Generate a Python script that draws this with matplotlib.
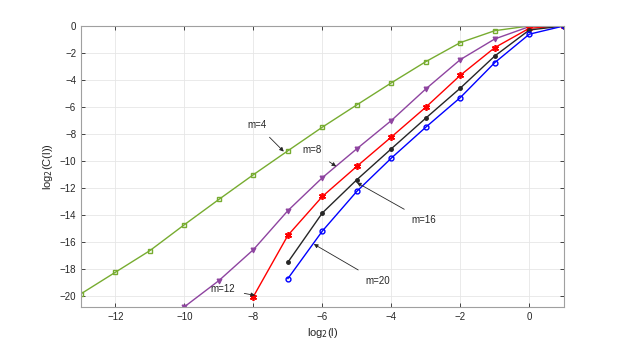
import numpy as np
import matplotlib.pyplot as plt

# ── Data ──
x_m4 = [-13, -12, -11, -10, -9, -8, -7, -6, -5, -4, -3, -2, -1, 0, 1]
y_m4 = [-19.83, -18.23, -16.63, -14.71, -12.84, -11.01, -9.24, -7.49,
        -5.84, -4.21, -2.64, -1.23, -0.35, 0.0, 0.0]

x_m8 = [-10, -9, -8, -7, -6, -5, -4, -3, -2, -1, 0, 1]
y_m8 = [-20.79, -18.85, -16.56, -13.67, -11.23, -9.09, -7.0, -4.66,
        -2.49, -0.96, -0.05, 0.0]

x_m12 = [-8, -7, -6, -5, -4, -3, -2, -1, 0, 1]
y_m12 = [-20.03, -15.5, -12.62, -10.39, -8.22, -6.01, -3.65, -1.6, -0.17, 0.0]

x_m16 = [-7, -6, -5, -4, -3, -2, -1, 0, 1]
y_m16 = [-17.49, -13.84, -11.38, -9.09, -6.82, -4.6, -2.22, -0.30, 0.0]

x_m20 = [-7, -6, -5, -4, -3, -2, -1, 0, 1]
y_m20 = [-18.7, -15.18, -12.24, -9.78, -7.49, -5.3, -2.71, -0.61, 0.0]

x_ticks = [-12, -10, -8, -6, -4, -2, 0]
y_ticks = [0, -2, -4, -6, -8, -10, -12, -14, -16, -18, -20]

# label text, arrow target (x, y), text position (x, y)
notes = [
    ("m=4", (-7.12, -9.3), (-7.9, -7.3)),
    ("m=8", (-5.6, -10.4), (-6.3, -9.2)),
    ("m=12", (-7.95, -19.95), (-8.9, -19.5)),
    ("m=16", (-5.0, -11.6), (-3.05, -14.4)),
    ("m=20", (-6.25, -16.15), (-4.4, -18.9)),
]

plt.rcParams['font.family'] = ['Liberation Sans', 'DejaVu Sans']

fig = plt.figure(figsize=(6.23, 3.46), dpi=100)
ax = fig.add_axes([0.130, 0.113, 0.775, 0.812])

ax.plot(x_m4, y_m4, color="#77ac30", lw=1.0, marker="s", ms=3, mfc="none", mew=1.0)
ax.plot(x_m8, y_m8, color="#8e44a0", lw=1.0, marker="v", ms=3.5, mew=0.8)
ax.plot(x_m12, y_m12, color="red", lw=1.0, marker=(6, 2, 0), ms=5, mew=1.2)
ax.plot(x_m16, y_m16, color="#262626", lw=1.0, marker=".", ms=5)
ax.plot(x_m20, y_m20, color="blue", lw=1.0, marker="o", ms=3.5, mfc="none", mew=1.0)

for label, xy, xytext in notes:
    ax.annotate(label, xy=xy, xytext=xytext, fontsize=7, color="#262626",
                ha="center", va="center",
                arrowprops=dict(arrowstyle="-|>", color="#262626", lw=0.6,
                                mutation_scale=6, shrinkA=5, shrinkB=0))

ax.set_xlim(-13, 1)
ax.set_ylim(-20.8, 0)
ax.set_xticks(x_ticks)
ax.set_yticks(y_ticks)
ax.grid(True, color="#e6e6e6", lw=0.6)
ax.set_axisbelow(True)
ax.tick_params(labelsize=7, colors="#262626", length=3, width=0.6,
               right=True, top=True, direction="in")
for sp in ax.spines.values():
    sp.set_color("#a0a0a0")
    sp.set_linewidth(0.8)

ax.set_xlabel("log$_2$(l)", fontsize=8, color="#262626", labelpad=3)
ax.set_ylabel("log$_2$(C(l))", fontsize=8, color="#262626", labelpad=3)

plt.savefig("out.png", dpi=100)
